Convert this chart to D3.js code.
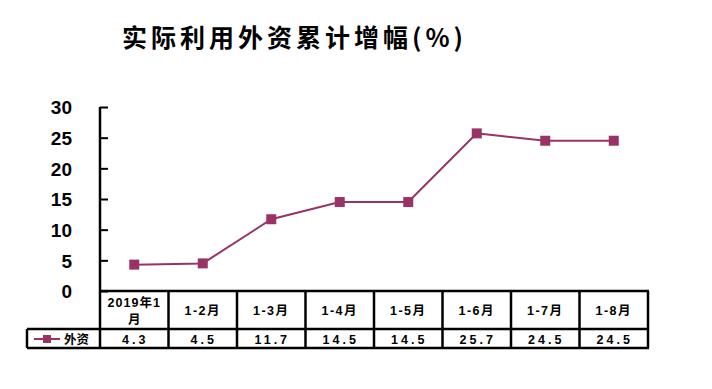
<!DOCTYPE html>
<html><head><meta charset="utf-8">
<script src="https://cdn.jsdelivr.net/npm/d3@7/dist/d3.min.js"></script>
<style>body{margin:0;background:#fff}svg{display:block}</style>
</head><body>
<svg id="c" width="712" height="389"></svg>
<script>
const categories = ["2019年1月","1-2月","1-3月","1-4月","1-5月","1-6月","1-7月","1-8月"];
const values = [4.3, 4.5, 11.7, 14.5, 14.5, 25.7, 24.5, 24.5];
const valueLabels = ["4.3","4.5","11.7","14.5","14.5","25.7","24.5","24.5"];
const yTicks = [0,5,10,15,20,25,30];
const seriesName = "外资";
const title = "实际利用外资累计增幅(%)";

(function(){
const color = "#993366";
const svg = d3.select("#c");
const pL = 100, pR = 648, pT = 107, pB = 291;
const legendLeft = 27, rowH = 38, row2 = 19;

const x = d3.scaleBand().domain(categories).range([pL, pR]);
const y = d3.scaleLinear().domain([0, 30]).range([pB, pT]);

svg.append("text").attr("x", 122).attr("y", 47)
  .attr("font-family", "'Noto Sans CJK SC', sans-serif").attr("font-weight", 700)
  .attr("font-size", 25).attr("letter-spacing", 4).attr("fill", "#000").text(title);

// y axis
const yAxis = d3.axisLeft(y).tickValues(yTicks).tickSize(-8).tickPadding(30);
const gy = svg.append("g").attr("transform", `translate(${pL},0)`).call(yAxis);
gy.select(".domain").attr("stroke", "#000").attr("stroke-width", 2.5).attr("d", `M0,${pT}V${pB}`);
gy.selectAll(".tick line").attr("stroke", "#000").attr("stroke-width", 2).attr("x1", 0).attr("x2", 8);
gy.selectAll(".tick text").attr("font-family", "'Liberation Sans', Arial, sans-serif")
  .attr("font-weight", 700).attr("font-size", 19).attr("fill", "#000").attr("x", -28).attr("dy", "0.36em");

// table
const tg = svg.append("g").attr("stroke", "#000").attr("stroke-width", 2.5);
tg.append("line").attr("x1", pL - 1).attr("x2", pR + 1).attr("y1", pB).attr("y2", pB);
tg.append("line").attr("x1", legendLeft).attr("x2", pR + 1).attr("y1", pB + rowH).attr("y2", pB + rowH);
tg.append("line").attr("x1", legendLeft).attr("x2", pR + 1).attr("y1", pB + rowH + row2).attr("y2", pB + rowH + row2);
tg.append("line").attr("x1", legendLeft).attr("x2", legendLeft).attr("y1", pB + rowH).attr("y2", pB + rowH + row2);
const bounds = categories.map(c => x(c)).concat([pR]);
tg.selectAll(".v").data(bounds).join("line")
  .attr("x1", d => d).attr("x2", d => d).attr("y1", pB).attr("y2", pB + rowH + row2);

const hdr = svg.append("g").attr("font-family", "'Liberation Sans', 'Noto Sans CJK SC', sans-serif")
  .attr("font-weight", 700).attr("font-size", 12.5).attr("fill", "#000").attr("text-anchor", "middle");
categories.forEach((c, i) => {
  const cx = x(c) + x.bandwidth() / 2;
  if (i === 0) {
    hdr.append("text").attr("x", cx).attr("y", pB + 16).attr("letter-spacing", 1).text(c.slice(0, 6));
    hdr.append("text").attr("x", cx).attr("y", pB + 33).text(c.slice(6));
  } else {
    hdr.append("text").attr("x", cx).attr("y", pB + 24).attr("letter-spacing", 1.5).text(c);
  }
});
const vals = svg.append("g").attr("font-family", "'Liberation Sans', sans-serif")
  .attr("font-weight", 700).attr("font-size", 12.5).attr("fill", "#000").attr("text-anchor", "middle");
categories.forEach((c, i) => {
  vals.append("text").attr("x", x(c) + x.bandwidth() / 2 + 1).attr("y", pB + rowH + 15)
    .attr("letter-spacing", 3).text(valueLabels[i]);
});

// legend in table
svg.append("line").attr("x1", 34).attr("x2", 60).attr("y1", pB + rowH + 10).attr("y2", pB + rowH + 10)
  .attr("stroke", color).attr("stroke-width", 2);
svg.append("rect").attr("x", 43).attr("y", pB + rowH + 6).attr("width", 8).attr("height", 8).attr("fill", color);
svg.append("text").attr("x", 64).attr("y", pB + rowH + 15)
  .attr("font-family", "'Noto Sans CJK SC', sans-serif").attr("font-weight", 700).attr("font-size", 12.5)
  .attr("fill", "#000").text(seriesName);

// line
const pts = categories.map((c, i) => [x(c) + x.bandwidth() / 2, y(values[i])]);
svg.append("path").attr("d", d3.line()(pts)).attr("fill", "none").attr("stroke", color).attr("stroke-width", 2);
svg.selectAll(".m").data(pts).join("rect")
  .attr("x", d => d[0] - 5).attr("y", d => d[1] - 5).attr("width", 10).attr("height", 10).attr("fill", color);
})();
</script>
</body></html>
